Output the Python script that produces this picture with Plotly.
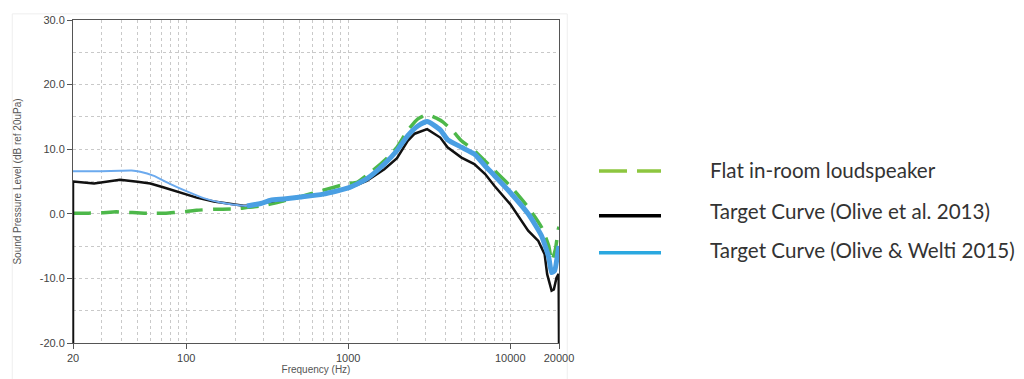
import numpy as np
import plotly.graph_objects as go

# ---- data ----
flat_freq = [20, 25, 30, 37, 45, 55, 65, 75, 85, 100, 116, 150, 200, 240, 290, 330, 400, 500, 690,
             1000, 1130, 1420, 1750, 2000, 2330, 2690, 3070, 3500, 3850, 4500, 5000, 6000,
             8000, 10000, 12900, 15600, 17300, 18000, 19000, 19800, 20000]
flat_db = [0.1, 0.1, 0.15, 0.3, 0.2, 0.1, 0.1, 0.1, 0.2, 0.35, 0.55, 0.7, 0.75, 1.0, 1.2, 1.5, 2.0, 2.6, 3.6,
           4.7, 4.85, 6.7, 8.7, 10.3, 12.9, 14.7, 15.35, 14.8, 14.2, 12.6, 11.3, 9.8,
           6.7, 4.3, 1.0, -2.1, -5.0, -7.3, -5.5, -2.4, -2.0]

olive2013_freq = [20, 20, 27, 39, 50, 60, 72, 92, 116, 148, 188, 226, 260, 300, 400, 500, 700,
                  1000, 1300, 1670, 2000, 2330, 2570, 3070, 3700, 4100, 5000, 6000, 7000,
                  8000, 10000, 12900, 14900, 16300, 16900, 18000, 18600, 19300, 19900, 20000]
olive2013_db = [-20, 5.0, 4.7, 5.27, 4.96, 4.7, 4.1, 3.3, 2.5, 1.9, 1.5, 1.24, 1.3, 1.7, 2.25, 2.6, 3.0,
                3.9, 5.1, 6.9, 8.6, 11.3, 12.4, 13.1, 11.8, 10.3, 8.7, 7.7, 6.15,
                4.3, 1.5, -2.6, -4.2, -6.25, -9.35, -11.9, -11.7, -9.9, -9.3, -20]

welti2015_freq = [20, 30, 39, 46, 52, 62.6, 80, 101, 128, 163, 206, 237, 288, 332, 400, 509, 700,
                  1000, 1300, 1670, 2000, 2330, 2690, 3070, 3700, 4100, 5000, 6000, 7000, 8000,
                  10000, 12900, 15600, 17300, 18000, 18800, 19800, 20000]
welti2015_db = [6.6, 6.6, 6.67, 6.7, 6.5, 5.9, 4.6, 3.46, 2.43, 1.75, 1.35, 1.2, 1.6, 2.1, 2.3, 2.6, 3.05,
                4.0, 5.4, 7.7, 9.8, 12.1, 13.6, 14.3, 13.0, 11.5, 10.3, 9.25, 7.4, 5.9,
                3.3, 0.0, -3.4, -6.8, -9.1, -8.8, -5.5, -5.0]

x_tick_vals = [20, 100, 1000, 10000, 20000]
x_tick_text = ["20", "100", "1000", "10000", "20000"]
x_minor_vals = [30, 40, 50, 60, 70, 80, 90, 200, 300, 400, 500, 600, 700, 800, 900,
                2000, 3000, 4000, 5000, 6000, 7000, 8000, 9000]
y_tick_vals = [-20, -10, 0, 10, 20, 30]
y_tick_text = ["-20.0", "-10.0", "0.0", "10.0", "20.0", "30.0"]

names = ["Flat in-room loudspeaker", "Target Curve (Olive et al. 2013)",
         "Target Curve (Olive & Welti 2015)"]

GREEN = "#4db84a"
BLACK = "#111111"
BLUE = "#4a9fe3"
BLUE_THIN = "#6caaee"
LEG_COLORS = ["#8dc63f", "#000000", "#2aa8e0"]
LEG_DASH = ["28px,10px", "solid", "solid"]

split = 12  # thin low-frequency part of the blue curve

fig = go.Figure()
fig.add_trace(go.Scatter(x=flat_freq, y=flat_db, mode="lines", name=names[0], showlegend=False,
                         line=dict(color=GREEN, width=3.5, dash="18px,10px", shape="spline",
                                   smoothing=0.5)))
fig.add_trace(go.Scatter(x=olive2013_freq, y=olive2013_db, mode="lines", name=names[1],
                         showlegend=False, cliponaxis=False,
                         line=dict(color=BLACK, width=2.5)))
fig.add_trace(go.Scatter(x=welti2015_freq[:split], y=welti2015_db[:split], mode="lines",
                         name=names[2], showlegend=False,
                         line=dict(color=BLUE_THIN, width=2, shape="spline", smoothing=0.5)))
fig.add_trace(go.Scatter(x=welti2015_freq[split - 1:], y=welti2015_db[split - 1:], mode="lines",
                         name=names[2], showlegend=False,
                         line=dict(color=BLUE, width=5, shape="spline", smoothing=0.5)))

# legend (drawn at the right, as in the reference)
leg_line_y = [0.5325, 0.3941, 0.2796]
leg_text_y = [0.5356, 0.4087, 0.2879]
shapes = [dict(type="rect", xref="paper", yref="paper", x0=-0.125, x1=1.017, y0=-0.12, y1=1.019,
               line=dict(color="#eeeeee", width=1), layer="below")]
annotations = []
for i, nm in enumerate(names):
    shapes.append(dict(type="line", xref="paper", yref="paper", x0=1.0823, x1=1.2099,
                       y0=leg_line_y[i], y1=leg_line_y[i],
                       line=dict(color=LEG_COLORS[i], width=3.5, dash=LEG_DASH[i])))
    annotations.append(dict(xref="paper", yref="paper", x=1.3066, y=leg_text_y[i],
                            xanchor="left", yanchor="middle", showarrow=False, text=nm,
                            font=dict(family="Lato, Open Sans, sans-serif", size=20.6,
                                      color="#333333")))

grid = dict(showgrid=True, gridcolor="#c9c9c9", gridwidth=1, griddash="dot")
tickfont = dict(family="Liberation Sans, Arial, sans-serif", size=11, color="#444")

fig.update_layout(
    width=1016, height=371,
    margin=dict(l=65, r=465, t=12, b=36),
    paper_bgcolor="white", plot_bgcolor="white",
    showlegend=False,
    xaxis=dict(type="log", range=[np.log10(20), np.log10(20000)],
               tickmode="array", tickvals=x_tick_vals, ticktext=x_tick_text,
               ticks="outside", ticklen=5, tickcolor="#555",
               tickfont=tickfont, showline=True, mirror=True, linecolor="#555", linewidth=1,
               zeroline=False, automargin=False,
               minor=dict(tickmode="array", tickvals=x_minor_vals, showgrid=True,
                          gridcolor="#c9c9c9", griddash="dot", ticks=""),
               title=dict(text="Frequency (Hz)", standoff=2,
                          font=dict(family="Liberation Sans, Arial, sans-serif", size=10, color="#555")),
               **grid),
    yaxis=dict(range=[-20, 30], tickmode="array", tickvals=y_tick_vals, ticktext=y_tick_text,
               ticks="outside", ticklen=5, tickcolor="#555",
               tickfont=tickfont, showline=True, mirror=True, linecolor="#555", linewidth=1,
               zeroline=False, automargin=False,
               minor=dict(dtick=5, showgrid=True, gridcolor="#c9c9c9", griddash="dot", ticks=""),
               title=dict(text="Sound Pressure Level (dB ref 20uPa)", standoff=16,
                          font=dict(family="Liberation Sans, Arial, sans-serif", size=10, color="#555")),
               **grid),
    shapes=shapes,
    annotations=annotations,
)

fig.write_html("out.html")
